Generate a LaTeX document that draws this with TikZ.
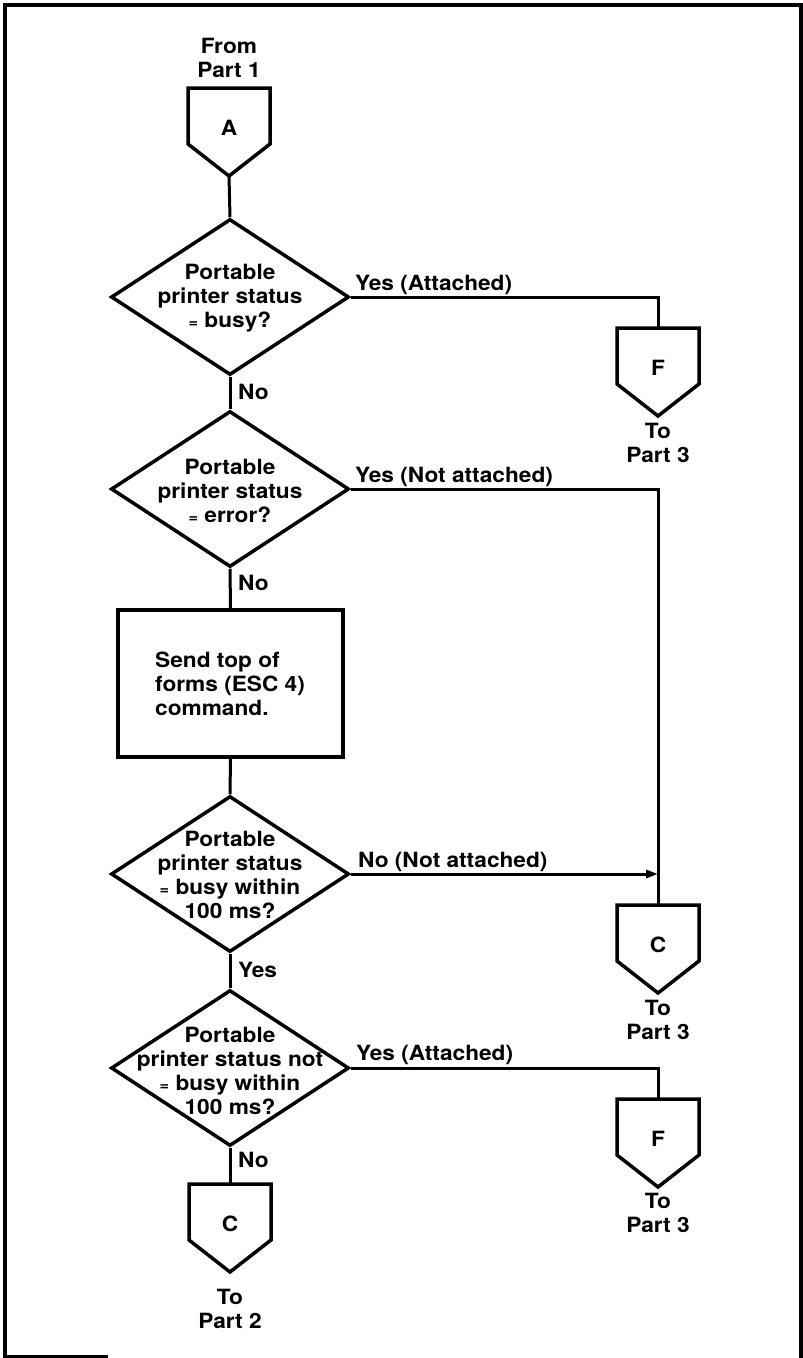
\documentclass[tikz,border=0pt]{standalone}
\usepackage{fontspec}
\setmainfont{TeX Gyre Heros}[FakeStretch=1.08]
\usetikzlibrary{shapes.geometric,arrows.meta}

\newcommand\smeq{{\fontsize{15}{15}\selectfont=}}

\tikzset{
  every node/.style={font=\fontsize{21}{24}\selectfont\bfseries},
  decision/.style={shape=diamond, draw, line width=3.5pt, minimum width=238pt, minimum height=156pt, inner sep=0pt},
  dtext/.style={align=center, inner sep=0pt},
  process/.style={shape=rectangle, draw, line width=3.5pt, minimum width=225pt, minimum height=147pt, inner sep=0pt},
  offbox/.style={shape=rectangle, minimum width=82pt, minimum height=56pt, inner sep=0pt, outer sep=0pt},
  shapeline/.style={line width=3.5pt, line join=miter},
  flow/.style={line width=3pt},
  frameline/.style={line width=3.5pt},
  lbl/.style={inner sep=0pt},
}

\newcommand\offpg[4]{%
  \node[offbox] (#1) at (#2,#3+28) {};
  \coordinate (#1-tip) at (#2,#3+88);
  \draw[shapeline] (#1.south west) -- (#1.north west) -- (#1.north east) -- (#1.south east) -- (#1-tip) -- cycle;
  \node[lbl] (#1-l) at (#2,#3+40) {#4};
}

\begin{document}
\begin{tikzpicture}[x=1pt,y=-1pt]
\useasboundingbox (0,0) rectangle (803,1358);

% frame
\coordinate (fa) at (5,1357);
\coordinate (fb) at (5,5);
\coordinate (fc) at (801,5);
\coordinate (fd) at (801,1358);
\coordinate (fe) at (108,1357);
\draw[frameline] (fe) -- (fa) -- (fb) -- (fc) -- (fd);

% entry connector
\node[dtext] (from) at (229,58) {From\\Part 1};
\offpg{A}{229}{88}{A}

% decisions
\node[decision] (D1) at (230,297) {};
\node[dtext] (D1t) at (230,298) {Portable\\printer status\\\smeq\ busy?};
\node[decision] (D2) at (230,489) {};
\node[dtext] (D2t) at (230,491) {Portable\\printer status\\\smeq\ error?};
\node[process] (R) at (230.5,683.5) {};
\node[lbl, align=left, anchor=west] (Rt) at (155,684) {Send top of\\forms (ESC 4)\\command.};
\node[decision] (D3) at (230,874) {};
\node[dtext] (D3t) at (230,875) {Portable\\printer status\\\smeq\ busy within\\100 ms?};
\node[decision] (D4) at (230,1068) {};
\node[dtext] (D4t) at (230,1071) {Portable\\printer status not\\\smeq\ busy within\\100 ms?};

% exit connectors
\offpg{F1}{658}{328}{F}
\node[dtext] (F1to) at (658,443) {To\\Part 3};
\offpg{Cr}{658}{905}{C}
\node[dtext] (Crto) at (658,1020) {To\\Part 3};
\offpg{F2}{658}{1099}{F}
\node[dtext] (F2to) at (658,1213) {To\\Part 3};
\offpg{Cb}{230}{1184}{C}
\node[dtext] (Cbto) at (230,1309) {To\\Part 2};

% main column
\draw[flow] (A-tip) -- (D1.north);
\draw[flow] (D1.south) -- (D2.north);
\draw[flow] (D2.south) -- (R.north);
\draw[flow] (R.south) -- (D3.north);
\draw[flow] (D3.south) -- (D4.north);
\draw[flow] (D4.south) -- (Cb.north);

% side branches
\draw[flow] (D1.east) -| (F1.north);
\draw[flow] (D2.east) -| (Cr.north);
\draw[flow, -{Triangle[length=12pt,width=8pt]}] (D3.east) -- (D3.east -| Cr.north);
\draw[flow] (D4.east) -| (F2.north);

% labels
\node[lbl, anchor=west] (n1) at (238,392) {No};
\node[lbl, anchor=west] (n2) at (238,583) {No};
\node[lbl, anchor=west] (y3) at (238,970) {Yes};
\node[lbl, anchor=west] (n4) at (238,1160) {No};
\node[lbl, anchor=base west] (y1) at (355,290) {Yes (Attached)};
\node[lbl, anchor=base west] (y2) at (355,482) {Yes (Not attached)};
\node[lbl, anchor=base west] (n3) at (358,867) {No (Not attached)};
\node[lbl, anchor=base west] (y4) at (356,1060) {Yes (Attached)};
\end{tikzpicture}
\end{document}
